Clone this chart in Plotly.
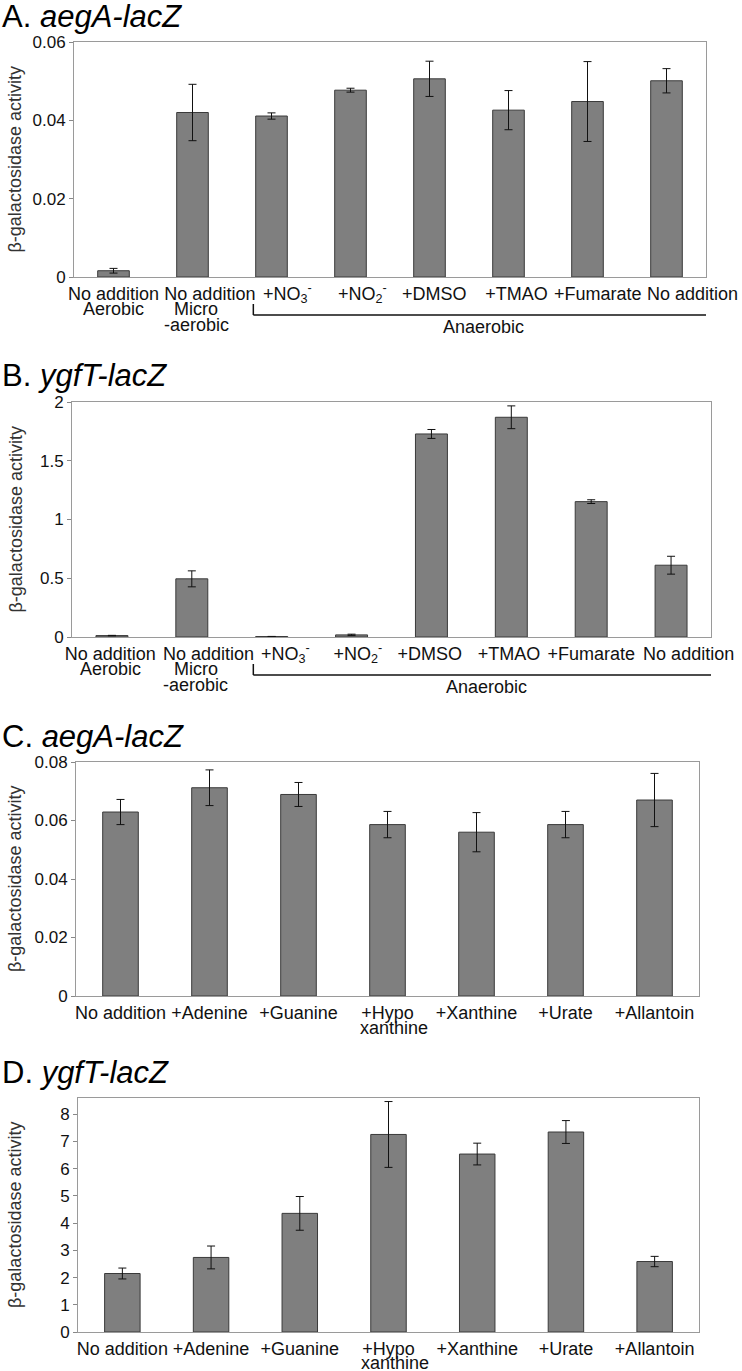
import plotly.graph_objects as go

# ---------------- data ----------------
A_CATS = ["No addition", "No addition", "+NO<sub>3</sub><sup>-</sup>", "+NO<sub>2</sub><sup>-</sup>",
          "+DMSO", "+TMAO", "+Fumarate", "No addition"]
A_VAL = [0.0016, 0.0420, 0.0411, 0.0477, 0.0506, 0.0426, 0.0448, 0.0501]
A_ERR = [0.0006, 0.0072, 0.0008, 0.0005, 0.0045, 0.0050, 0.0102, 0.0031]

B_CATS = A_CATS
B_VAL = [0.012, 0.495, 0.004, 0.018, 1.728, 1.870, 1.152, 0.611]
B_ERR = [0.002, 0.068, 0.001, 0.006, 0.038, 0.097, 0.016, 0.076]

C_CATS = ["No addition", "+Adenine", "+Guanine", "+Hypo", "+Xanthine", "+Urate", "+Allantoin"]
C_VAL = [0.0629, 0.0712, 0.0689, 0.0586, 0.0560, 0.0586, 0.0670]
C_ERR = [0.0043, 0.0061, 0.0041, 0.0045, 0.0067, 0.0045, 0.0091]

D_CATS = C_CATS
D_VAL = [2.15, 2.74, 4.36, 7.26, 6.54, 7.35, 2.59]
D_ERR = [0.20, 0.42, 0.62, 1.21, 0.40, 0.42, 0.19]

TITLES = ["A. <i>aegA-lacZ</i>", "B. <i>ygfT-lacZ</i>", "C. <i>aegA-lacZ</i>", "D. <i>ygfT-lacZ</i>"]
Y_TITLE = "β-galactosidase activity"
CONDITION_SUB = [("Aerobic", 0, 1), ("Micro", 1, 1), ("-aerobic", 1, 2)]
PURINE_SUB = [("xanthine", 3, 1)]
GROUP_LABEL = "Anaerobic"

# ---------------- layout helpers (pixels) ----------------
W, H = 742, 1371
def py(p):
    return 1 - p / H
def px(p):
    return p / W

panels = [
    dict(cats=A_CATS, vals=A_VAL, errs=A_ERR, xr=(74, 706), yr=(42, 277), rng=[0, 0.06], dt=0.02,
         lpos=[0, 1.22, 2.2, 3.15, 4.06, 5.1, 6.13, 7.33], subpos={0: 0, 1: 1.05}, subs=CONDITION_SUB,
         bracket=True, line2=16.5),
    dict(cats=B_CATS, vals=B_VAL, errs=B_ERR, xr=(72, 711), yr=(402, 637), rng=[0, 2], dt=0.5,
         lpos=[-0.02, 1.21, 2.17, 3.08, 3.98, 4.97, 6.0, 7.22], subpos={0: -0.02, 1: 1.05}, subs=CONDITION_SUB,
         bracket=True, line2=16.5),
    dict(cats=C_CATS, vals=C_VAL, errs=C_ERR, xr=(76, 699), yr=(762, 996), rng=[0, 0.08], dt=0.02,
         lpos=None, subpos={3: 3.07}, subs=PURINE_SUB, bracket=False, line2=16.5),
    dict(cats=D_CATS, vals=D_VAL, errs=D_ERR, xr=(78, 699), yr=(1098, 1332), rng=[0, 8.6], dt=1,
         lpos=None, subpos={3: 3.07}, subs=PURINE_SUB, bracket=False, line2=16),
]

FAM = "Liberation Sans, Arial, Helvetica, sans-serif"
TICKFONT = dict(family=FAM, size=18, color="#111")
fig = go.Figure()
annotations = []
shapes = []

for i, p in enumerate(panels):
    n = i + 1
    xa = "x" if n == 1 else f"x{n}"
    ya = "y" if n == 1 else f"y{n}"
    xs = list(range(len(p["cats"])))
    fig.add_trace(go.Bar(
        x=xs, y=p["vals"], xaxis=xa, yaxis=ya,
        marker=dict(color="#7f7f7f", line=dict(color="#3a3a3a", width=1)),
        error_y=dict(type="data", array=p["errs"], visible=True, color="#111", thickness=1, width=4),
        showlegend=False, hoverinfo="skip",
    ))
    ydom = [py(p["yr"][1]), py(p["yr"][0])]
    xdom = [px(p["xr"][0]), px(p["xr"][1])]
    tickvals = p["lpos"] if p["lpos"] is not None else xs
    fig.layout[f"xaxis{'' if n == 1 else n}"] = dict(
        domain=xdom, anchor=ya, range=[-0.5, len(xs) - 0.5], automargin=False,
        tickvals=tickvals, ticktext=p["cats"], tickangle=0, ticks="",
        tickfont=TICKFONT, showline=True, mirror=True, linecolor="#9a9a9a", linewidth=1,
        showgrid=False, zeroline=False, fixedrange=True,
    )
    fig.layout[f"yaxis{'' if n == 1 else n}"] = dict(
        domain=ydom, anchor=xa, range=p["rng"], dtick=p["dt"], tick0=0, automargin=False,
        ticks="outside", ticklen=4, tickcolor="#888", tickfont=dict(family=FAM, size=17, color="#111"),
        showline=True, mirror=True, linecolor="#9a9a9a", linewidth=1,
        showgrid=False, zeroline=False, fixedrange=True,
    )
    annotations.append(dict(text=TITLES[i], xref="paper", yref="paper", x=0, y=py(p["yr"][0] - 26),
                            xanchor="left", yanchor="middle", showarrow=False,
                            font=dict(family=FAM, size=31, color="#000")))
    annotations.append(dict(text=Y_TITLE, xref="paper", yref="paper", x=px(15),
                            y=(ydom[0] + ydom[1]) / 2, xanchor="center", yanchor="middle",
                            textangle=-90, showarrow=False,
                            font=dict(family=FAM, size=18, color="#333")))
    for txt, idx, line in p["subs"]:
        annotations.append(dict(text=txt, xref=xa, yref="paper", x=p["subpos"][idx],
                                y=py(p["yr"][1] + 15 + p["line2"] * line), xanchor="center", yanchor="middle",
                                showarrow=False, font=TICKFONT))
    if p["bracket"]:
        top = py(p["yr"][1] + 27)
        bot = py(p["yr"][1] + 38)
        x0, x1 = 1.77, 7.6
        for (ax0, ay0, ax1, ay1) in [(x0, top, x0, bot), (x0, bot, x1, bot), (x1, bot, x1, top)]:
            shapes.append(dict(type="line", xref=xa, yref="paper", x0=ax0, y0=ay0, x1=ax1, y1=ay1,
                               line=dict(color="#111", width=1.5)))
        annotations.append(dict(text=GROUP_LABEL, xref=xa, yref="paper", x=(x0 + x1) / 2,
                                y=py(p["yr"][1] + 50), xanchor="center", yanchor="middle",
                                showarrow=False, font=TICKFONT))

fig.update_layout(
    width=W, height=H, autosize=False,
    margin=dict(l=0, r=0, t=0, b=0, autoexpand=False),
    paper_bgcolor="white", plot_bgcolor="white",
    bargap=0.6, annotations=annotations, shapes=shapes,
)
fig.write_html("out.html", config={"displayModeBar": False},
               post_script="document.body.style.margin='0';document.body.style.overflow='hidden';")
